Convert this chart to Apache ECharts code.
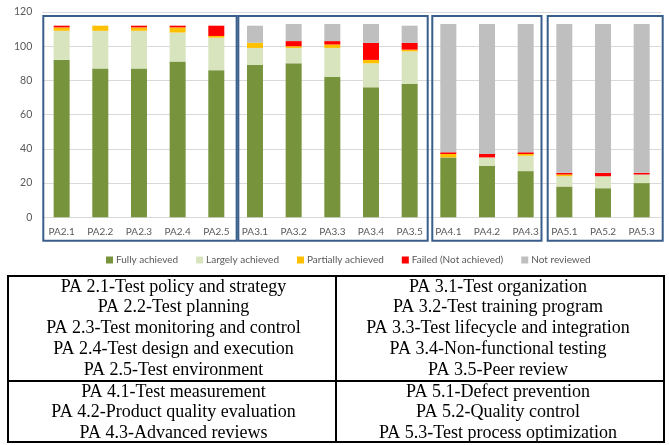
<!DOCTYPE html>
<html>
<head>
<meta charset="utf-8">
<script src="https://cdn.jsdelivr.net/npm/echarts@6/dist/echarts.min.js"></script>
<style>
html,body{margin:0;padding:0;background:#fff;}
#c{width:669px;height:445px;}
</style>
</head>
<body>
<div id="c"></div>
<script>
// ---- data ----
const categories = ['PA2.1','PA2.2','PA2.3','PA2.4','PA2.5','PA3.1','PA3.2','PA3.3','PA3.4','PA3.5','PA4.1','PA4.2','PA4.3','PA5.1','PA5.2','PA5.3'];
const fullyAchieved     = [92,87,87,91,86, 89,90,82,76,78, 35,30,27, 18,17,20];
const largelyAchieved   = [17,22,22,17,19, 10, 9,17,14,19,  0, 5, 9,  6, 7, 5];
const partiallyAchieved = [ 2, 3, 2, 3, 1,  3, 1, 2, 2, 1,  2, 0, 1,  1, 0, 0];
const failedNotAchieved = [ 1, 0, 1, 1, 6,  0, 3, 2,10, 4,  1, 2, 1,  1, 2, 1];
const notReviewed       = [ 0, 0, 0, 0, 0, 10,10,10,11,10, 75,76,75, 87,87,87];
const seriesNames = ['Fully achieved','Largely achieved','Partially achieved','Failed (Not achieved)','Not reviewed'];
const yTicks = [0,20,40,60,80,100,120];
// category index ranges of the outlined groups
const groupStart = [0,5,10,13];
const groupEnd   = [4,9,12,15];
// table texts
const tableTopLeft  = ['PA 2.1-Test policy and strategy','PA 2.2-Test planning','PA 2.3-Test monitoring and control','PA 2.4-Test design and execution','PA 2.5-Test environment'];
const tableTopRight = ['PA 3.1-Test organization','PA 3.2-Test training program','PA 3.3-Test lifecycle and integration','PA 3.4-Non-functional testing','PA 3.5-Peer review'];
const tableBotLeft  = ['PA 4.1-Test measurement','PA 4.2-Product quality evaluation','PA 4.3-Advanced reviews'];
const tableBotRight = ['PA 5.1-Defect prevention','PA 5.2-Quality control','PA 5.3-Test process optimization'];

const colors = ['#77933C','#D7E4BD','#FFC000','#FF0000','#BFBFBF'];
const seriesData = [fullyAchieved, largelyAchieved, partiallyAchieved, failedNotAchieved, notReviewed];
const font = 'Lato, "Open Sans", sans-serif';

const chart = echarts.init(document.getElementById('c'), null, {renderer:'canvas'});
const gridTop = 12, gridBottom = 227.7, gridLeft = 42.3, gridRight = 8;

chart.setOption({
  animation:false,
  backgroundColor:'#fff',
  color: colors,
  grid:{left:gridLeft, right:gridRight, top:gridTop, bottom:gridBottom, containLabel:false},
  legend:{
    data: seriesNames, left:101, top:250,
    itemWidth:7, itemHeight:7, itemGap:18, icon:'rect',
    textStyle:{fontSize:10, color:'#595959', fontFamily:font, padding:[0,0,0,-2]}
  },
  xAxis:{
    type:'category', data:categories,
    axisLine:{lineStyle:{color:'#D9D9D9', width:1}},
    axisTick:{show:false},
    axisLabel:{fontSize:10, color:'#595959', fontFamily:font, margin:9, interval:0}
  },
  yAxis:{
    type:'value', min:yTicks[0], max:yTicks[yTicks.length-1], interval:yTicks[1]-yTicks[0],
    axisLine:{show:false}, axisTick:{show:false},
    splitLine:{lineStyle:{color:'#D9D9D9', width:1}},
    axisLabel:{fontSize:10.5, color:'#595959', fontFamily:font, margin:10}
  },
  series: seriesNames.map((n,i)=>({
    name:n, type:'bar', stack:'total', barWidth:16, silent:true,
    data: seriesData[i], itemStyle:{color:colors[i]}
  }))
});

// ---- outlines around groups & table (graphics) ----
function buildGraphics(){
  const c0 = chart.convertToPixel({xAxisIndex:0}, 0);
  const c1 = chart.convertToPixel({xAxisIndex:0}, 1);
  const band = c1 - c0;
  const yBase = chart.convertToPixel({yAxisIndex:0}, 0);
  const yTop = chart.convertToPixel({yAxisIndex:0}, yTicks[yTicks.length-1]);
  const lOff = [1, 2.7, 3.3, 2.7];
  const rOff = [1, -1.3, -3.5, 1.7];
  const g = [];
  for (let k=0;k<groupStart.length;k++){
    const x0 = chart.convertToPixel({xAxisIndex:0}, groupStart[k]) - band/2 + lOff[k];
    const x1 = chart.convertToPixel({xAxisIndex:0}, groupEnd[k]) + band/2 + rOff[k];
    g.push({type:'rect', shape:{x:x0, y:yTop+4, width:x1-x0, height:(yBase+23.5)-(yTop+4)},
      style:{fill:null, stroke:'#3A5E8C', lineWidth:2}, silent:true, z:10});
  }
  // table
  const L=8, R=664, T=276, M=336, D=381, B=442;
  const ls = {stroke:'#000', lineWidth:2};
  g.push({type:'rect', shape:{x:L,y:T,width:R-L,height:B-T}, style:{fill:null, stroke:'#000', lineWidth:2}, silent:true});
  g.push({type:'line', shape:{x1:M,y1:T,x2:M,y2:B}, style:ls, silent:true});
  g.push({type:'line', shape:{x1:L,y1:D,x2:R,y2:D}, style:ls, silent:true});
  const tf = '"Liberation Serif", "Times New Roman", serif';
  const cl = 173.5, cr = 498;
  const rowH = 20.75;
  function addRows(arr, cx, y0){
    arr.forEach((t,i)=>{
      g.push({type:'text', x:cx, y:y0+i*rowH, silent:true,
        style:{text:t, fill:'#000', font:'18px '+tf, textAlign:'center', textVerticalAlign:'middle'}});
    });
  }
  addRows(tableTopLeft, cl, 287);
  addRows(tableTopRight, cr, 287);
  addRows(tableBotLeft, cl, 392);
  addRows(tableBotRight, cr, 392);
  chart.setOption({graphic:g});
}
buildGraphics();
</script>
</body>
</html>
